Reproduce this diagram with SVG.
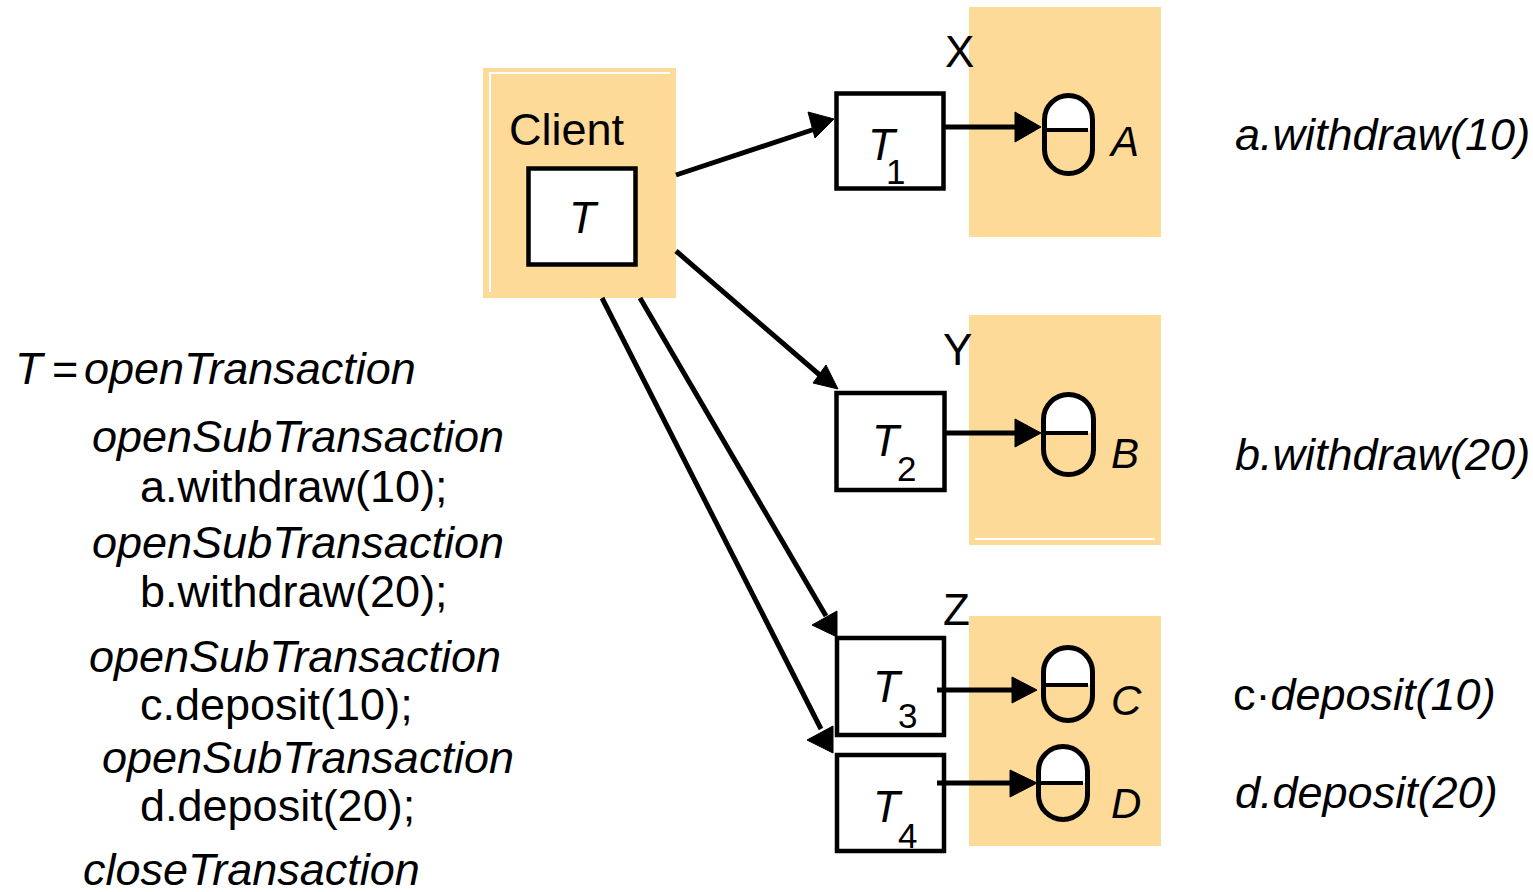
<svg xmlns="http://www.w3.org/2000/svg" width="1533" height="892" viewBox="0 0 1533 892">
<style>
.zone{fill:#FEDA98}
.wl{stroke:#fff;stroke-width:2;fill:none}
.box{fill:#fff;stroke:#000;stroke-width:4.5}
.cyl{fill:none;stroke:#000;stroke-width:5}
.top{fill:#fff}
.mid{stroke:#000;stroke-width:4}
.ln{stroke:#000;stroke-width:5;fill:none}
.hd{fill:#000;stroke:#000;stroke-width:1;stroke-linejoin:round}
text{font-family:"Liberation Sans",Arial,sans-serif;fill:#000}
.t45{font-size:45px}
.t44{font-size:44px}
.t42{font-size:42px}
.sub{font-size:35px}
.i{font-style:italic}
</style>
<rect width="1533" height="892" fill="#fff"/>
<g id="client">
<rect class="zone" x="483" y="68" width="193" height="230"/>
<path class="wl" d="M490,292 V73 H670"/>
<text class="t45" x="509" y="145">Client</text>
<rect class="box" x="528.5" y="168.5" width="107" height="96"/>
<text class="t44 i" x="569" y="233">T</text>
</g>
<g id="serverX">
<rect class="zone" x="969" y="7" width="192" height="230"/>
<text class="t44" x="945" y="67">X</text>
</g>
<g id="serverY">
<rect class="zone" x="969" y="315" width="192" height="230"/>
<line class="wl" x1="975" y1="539" x2="1155" y2="539"/>
<text class="t44" x="943" y="365">Y</text>
</g>
<g id="serverZ">
<rect class="zone" x="969" y="616" width="192" height="230"/>
<text class="t44" x="943" y="625">Z</text>
</g>
<g id="T1">
<rect class="box" x="836.5" y="93.5" width="107" height="95"/>
<text class="t44 i" x="868" y="160">T</text>
<text class="sub" x="886" y="184">1</text>
</g>
<g id="T2">
<rect class="box" x="836.5" y="393" width="108" height="97"/>
<text class="t44 i" x="872" y="456">T</text>
<text class="sub" x="897" y="481">2</text>
</g>
<g id="T3">
<rect class="box" x="837" y="638" width="107" height="97"/>
<text class="t44 i" x="873" y="702">T</text>
<text class="sub" x="898" y="728">3</text>
</g>
<g id="T4">
<rect class="box" x="837" y="755" width="107" height="96"/>
<text class="t44 i" x="873" y="822">T</text>
<text class="sub" x="898" y="848">4</text>
</g>
<g id="A">
<path class="top" d="M1044.5,130 V119.5 A24,24 0 0 1 1092.5,119.5 V130 Z"/>
<rect class="cyl" x="1044.5" y="95.5" width="48" height="78" rx="24"/>
<line class="mid" x1="1043" y1="130" x2="1088" y2="130"/>
<text class="t42 i" x="1111" y="156">A</text>
</g>
<g id="B">
<path class="top" d="M1043.5,433 V419.5 A25,25 0 0 1 1093.5,419.5 V433 Z"/>
<rect class="cyl" x="1043.5" y="394.5" width="50" height="80" rx="25"/>
<line class="mid" x1="1042" y1="433" x2="1088" y2="433"/>
<text class="t42 i" x="1111" y="468">B</text>
</g>
<g id="C">
<path class="top" d="M1043.5,685 V672 A24.5,24.5 0 0 1 1092.5,672 V685 Z"/>
<rect class="cyl" x="1043.5" y="647.5" width="49" height="73" rx="24.5"/>
<line class="mid" x1="1042" y1="685" x2="1088" y2="685"/>
<text class="t42 i" x="1111" y="715">C</text>
</g>
<g id="D">
<path class="top" d="M1038.5,783 V771 A24.5,24.5 0 0 1 1087.5,771 V783 Z"/>
<rect class="cyl" x="1038.5" y="746.5" width="49" height="73" rx="24.5"/>
<line class="mid" x1="1037" y1="783" x2="1083" y2="783"/>
<text class="t42 i" x="1111" y="818">D</text>
</g>
<g id="connectors">
<line class="ln" x1="676" y1="175" x2="815" y2="129"/>
<polygon class="hd" points="808,112 834,119 815,138"/>
<line class="ln" x1="676" y1="251" x2="822" y2="377"/>
<polygon class="hd" points="813,383 826,365 838,389"/>
<line class="ln" x1="640" y1="298" x2="826" y2="616"/>
<polygon class="hd" points="812,625 837,611 837,637"/>
<line class="ln" x1="602" y1="298" x2="821" y2="729"/>
<polygon class="hd" points="807,740 833,726 833,753"/>
<line class="ln" x1="944" y1="127" x2="1017" y2="127"/>
<polygon class="hd" points="1015,112 1041,127 1015,142"/>
<line class="ln" x1="944" y1="433" x2="1017" y2="433"/>
<polygon class="hd" points="1015,419 1041,433 1015,447"/>
<line class="ln" x1="937" y1="690" x2="1014" y2="690"/>
<polygon class="hd" points="1012,677 1037,690 1012,703"/>
<line class="ln" x1="937" y1="783" x2="1012" y2="783"/>
<polygon class="hd" points="1010,770 1037,783 1010,797"/>
</g>
<g id="code" class="t45">
<text y="384"><tspan class="i" x="15">T</tspan><tspan x="52">=</tspan><tspan class="i" x="84">openTransaction</tspan></text>
<text class="i" x="92" y="452">openSubTransaction</text>
<text x="140" y="502">a.withdraw(10);</text>
<text class="i" x="92" y="558">openSubTransaction</text>
<text x="140" y="607">b.withdraw(20);</text>
<text class="i" x="89" y="672">openSubTransaction</text>
<text x="140" y="720">c.deposit(10);</text>
<text class="i" x="102" y="773">openSubTransaction</text>
<text x="140" y="821">d.deposit(20);</text>
<text class="i" x="83" y="885">closeTransaction</text>
</g>
<g id="ops" class="t45">
<text class="i" x="1235" y="150">a.withdraw(10)</text>
<text class="i" x="1235" y="470">b.withdraw(20)</text>
<text x="1233" y="710">c·<tspan class="i">deposit(10)</tspan></text>
<text class="i" x="1235" y="808">d.deposit(20)</text>
</g>
</svg>
